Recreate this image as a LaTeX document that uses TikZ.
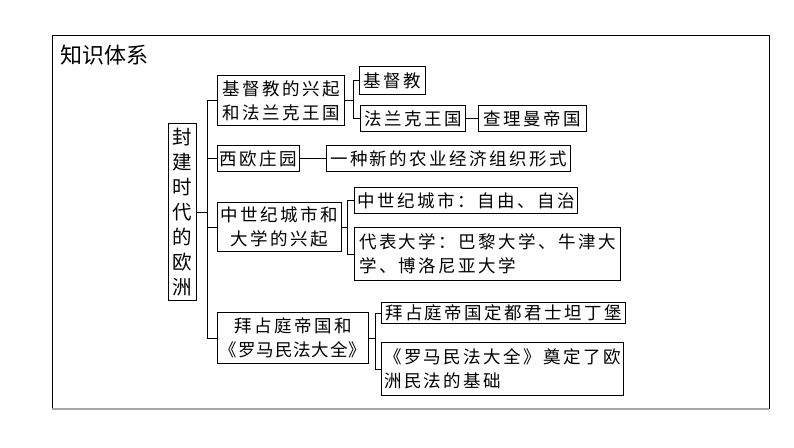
\documentclass[tikz,border=0pt]{standalone}
\usepackage{fontspec}
\newfontfamily\cjk{Noto Sans CJK SC}
\newfontfamily\cjkbox[LetterSpace=14]{Noto Sans CJK SC}
\newfontfamily\cjktight[LetterSpace=5]{Noto Sans CJK SC}
\begin{document}
\begin{tikzpicture}[x=1pt,y=-1pt,
    box/.style={draw,line width=1.1pt,anchor=north west,inner sep=0pt,align=center,
      font=\cjkbox\fontsize{17.5}{24}\selectfont},
    link/.style={line width=0.9pt}]
  \useasboundingbox (0,0) rectangle (794,447);
  % frame
  \draw[line width=0.7pt] (52,409) -- (52,35) -- (769,35) -- (769,409);
  \draw[gray!70,line width=1.6pt] (52,409) -- (769,409);
  \node[anchor=west,font=\cjk\fontsize{22}{26}\selectfont] (title) at (57,55) {知识体系};
  % boxes
  \node[box,minimum width=28pt,minimum height=177pt,font=\cjk\fontsize{19.5}{25}\selectfont]
    (root) at (168,123) {封\\建\\时\\代\\的\\欧\\洲};
  \node[box,minimum width=127pt,minimum height=50pt] (A) at (217,75) {基督教的兴起\\和法兰克王国};
  \node[box,minimum width=66pt,minimum height=28pt] (A1) at (359,66) {基督教};
  \node[box,minimum width=105pt,minimum height=26pt] (A2) at (360,105) {法兰克王国};
  \node[box,minimum width=108pt,minimum height=26pt] (A3) at (478,105) {查理曼帝国};
  \node[box,minimum width=82pt,minimum height=26pt] (B) at (217,145) {西欧庄园};
  \node[box,minimum width=244pt,minimum height=26pt] (B1) at (326,145) {一种新的农业经济组织形式};
  \node[box,minimum width=124pt,minimum height=49pt] (C) at (217,202) {中世纪城市和\\大学的兴起};
  \node[box,minimum width=223pt,minimum height=26pt] (C1) at (354,187) {中世纪城市：自由、自治};
  \node[box,minimum width=266pt,minimum height=53pt,align=left] (C2) at (354,227)
    {代表大学：巴黎大学、牛津大\\学、博洛尼亚大学};
  \node[box,minimum width=151pt,minimum height=51pt] (D) at (217,312)
    {拜占庭帝国和\\{\cjktight 《罗马民法大全》}};
  \node[box,minimum width=244pt,minimum height=21pt] (D1) at (381,302) {拜占庭帝国定都君士坦丁堡};
  \node[box,minimum width=242pt,minimum height=53pt,align=left] (D2) at (381,342)
    {《罗马民法大全》奠定了欧\\洲民法的基础};
  % connectors
  \draw[link] (root.east) -- ++(11,0);
  \draw[link] (A.west) -- ++(-10,0) |- (D.west);
  \draw[link] (B.west) -- ++(-10,0);
  \draw[link] (C.west) -- ++(-10,0);
  \draw[link] (A.east) -- ++(9,0);
  \draw[link] (A1.west) -- ++(-6,0) |- (A2.west);
  \draw[link] (A2.east) -- (A3.west);
  \draw[link] (B.east) -- (B1.west);
  \draw[link] (C.east) -- ++(6,0);
  \draw[link] (C1.west) -- ++(-7,0) |- (C2.west);
  \draw[link] (D.east) -- ++(7,0);
  \draw[link] (D1.west) -- ++(-6,0) |- (D2.west);
\end{tikzpicture}
\end{document}
